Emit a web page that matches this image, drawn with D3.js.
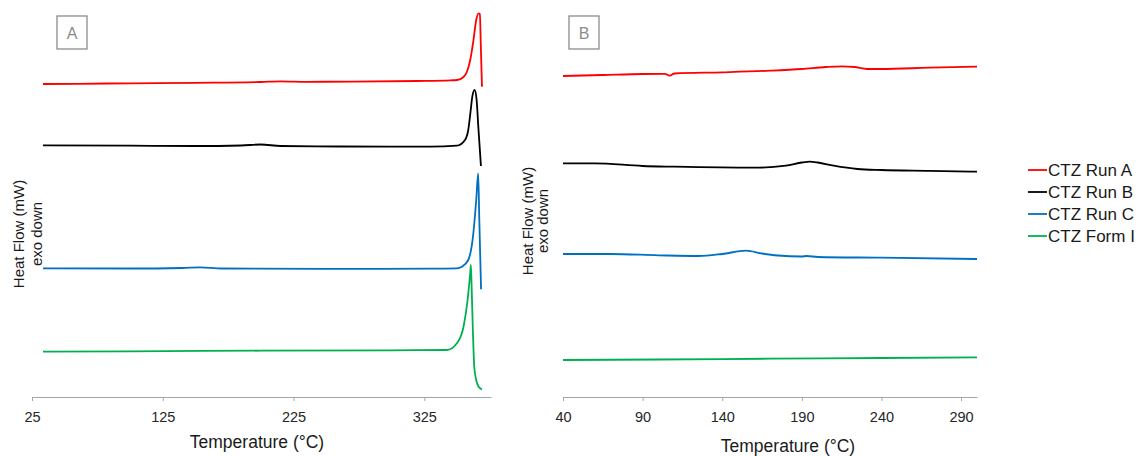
<!DOCTYPE html>
<html>
<head>
<meta charset="utf-8">
<script src="https://cdn.jsdelivr.net/npm/d3@7"></script>
<style>
  body { margin: 0; background: #fff; }
  svg { font-family: "Liberation Sans", Arial, sans-serif; }
</style>
</head>
<body>
<div id="chart-area"></div>
<script>

// series names + colours (legend order)
var seriesNames = ["CTZ Run A", "CTZ Run B", "CTZ Run C", "CTZ Form I"];
var seriesColors = ["#ff0000", "#000000", "#0070c0", "#00b050"];

// x tick labels
var ticksA = [25, 125, 225, 325];
var ticksB = [40, 90, 140, 190, 240, 290];

// Panel A: [temperature °C, heat flow (offset, arb.)]
var runA_A = [[33.4,31.3],[60,31.32],[100,31.37],[150,31.42],[200,31.5],[215,31.57],[235,31.52],[270,31.54],[320,31.6],[345,31.67],[350,31.7],[355,32.0],[357.6,32.53],[360.1,33.7],[362.6,35.7],[364.7,37.7],[366.5,38.37],[367.5,38.3],[368.2,35.2],[369.1,31.03]];
var runB_A = [[33.4,25.17],[100,25.13],[150,25.1],[185,25.15],[200,25.25],[215,25.1],[260,25.05],[330,25.03],[349.9,25.13],[356.1,25.7],[358.6,26.7],[360.5,28.7],[361.7,30.03],[363.5,30.7],[365.0,29.7],[366.3,27.03],[368.3,23.1]];
var runC_A = [[33.4,12.87],[100,12.85],[140,12.9],[153.5,12.97],[170,12.85],[250,12.82],[330,12.83],[349.9,12.87],[353.7,13.03],[358.6,13.7],[362.5,16.37],[364.7,19.7],[366.2,22.37],[367.0,18.03],[367.7,14.4],[368.4,10.77]];
var formI_A = [[33.4,4.53],[100,4.57],[200,4.63],[300,4.67],[342.3,4.7],[349.9,5.37],[355.0,7.03],[358.1,9.7],[360.1,12.4],[360.6,13.2],[361.1,11.4],[362.2,6.4],[363.2,3.03],[364.7,1.7],[366.5,1.03],[369.1,0.77]];

// Panel B
var runA_B = [[40,32.1],[65,32.2],[90,32.3],[104,32.32],[107,32.13],[110,32.35],[140,32.47],[170,32.63],[190,32.8],[205,33.0],[215,33.07],[223,33.0],[231,32.8],[240,32.8],[270,32.93],[300,33.03]];
var runB_B = [[40,23.37],[60,23.37],[90,23.1],[110,23.03],[160,22.93],[180,23.13],[190,23.45],[195,23.53],[200,23.45],[210,23.13],[225,22.8],[240,22.7],[270,22.62],[300,22.53]];
var runC_B = [[40,14.3],[70,14.3],[100,14.17],[125,14.1],[140,14.3],[155,14.63],[165,14.35],[175,14.15],[190,14.05],[193,14.1],[200,14.0],[240,13.93],[300,13.8]];
var formI_B = [[40,3.7],[100,3.75],[170,3.83],[240,3.9],[300,3.97]];

var W = 1138, H = 456;
var axisY = 397;

var svg = d3.select("#chart-area").append("svg")
	.attr("width", W)
	.attr("height", H);

var y = d3.scaleLinear()
	.domain([0, 39])
	.range([axisY, 7]);

function drawPanel(p) {
	var x = d3.scaleLinear()
		.domain(p.domain)
		.range(p.range);

	var g = svg.append("g");

	var xAxis = d3.axisBottom(x)
		.tickValues(p.ticks)
		.tickSizeInner(4)
		.tickSizeOuter(0)
		.tickPadding(10.5);

	var ax = g.append("g")
		.attr("transform", "translate(0," + axisY + ")")
		.call(xAxis);
	ax.select(".domain").attr("stroke", "#a6a6a6");
	ax.selectAll(".tick line").attr("stroke", "#a6a6a6");
	ax.selectAll(".tick text")
		.attr("fill", "#262626")
		.style("font-size", "14.5px")
		.style("font-family", "'Liberation Sans', Arial, sans-serif");

	var line = d3.line()
		.x(function(d) { return x(d[0]); })
		.y(function(d) { return y(d[1]); })
		.curve(d3.curveMonotoneX);

	p.series.forEach(function(s, i) {
		g.append("path")
			.datum(s)
			.attr("fill", "none")
			.attr("stroke", seriesColors[i])
			.attr("stroke-width", 1.8)
			.attr("d", line);
	});

	// axis titles
	g.append("text")
		.attr("x", p.titleX)
		.attr("y", p.titleY)
		.attr("text-anchor", "middle")
		.attr("fill", "#1a1a1a")
		.style("font-size", "17.5px")
		.text("Temperature (°C)");

	g.append("text")
		.attr("transform", "translate(" + p.yl1 + "," + p.ylc + ") rotate(-90)")
		.attr("text-anchor", "middle")
		.attr("fill", "#1a1a1a")
		.style("font-size", "15px")
		.text("Heat Flow (mW)");
	g.append("text")
		.attr("transform", "translate(" + p.yl2 + "," + p.ylc + ") rotate(-90)")
		.attr("text-anchor", "middle")
		.attr("fill", "#1a1a1a")
		.style("font-size", "15px")
		.text("exo down");

	// panel letter box
	g.append("rect")
		.attr("x", p.boxX)
		.attr("y", 16)
		.attr("width", 30)
		.attr("height", 33)
		.attr("fill", "none")
		.attr("stroke", "#8c8c8c")
		.attr("stroke-width", 1.3);
	g.append("text")
		.attr("x", p.boxX + 15)
		.attr("y", 38.5)
		.attr("text-anchor", "middle")
		.attr("fill", "#8c8c8c")
		.style("font-size", "16px")
		.text(p.letter);
}

drawPanel({
	domain: [25, 376], range: [32, 491], ticks: ticksA,
	series: [runA_A, runB_A, runC_A, formI_A],
	titleX: 257, titleY: 447.5,
	yl1: 24, yl2: 41.5, ylc: 234,
	boxX: 57, letter: "A"
});

drawPanel({
	domain: [40, 300], range: [563, 977], ticks: ticksB,
	series: [runA_B, runB_B, runC_B, formI_B],
	titleX: 788, titleY: 451.5,
	yl1: 533, yl2: 548, ylc: 221,
	boxX: 569, letter: "B"
});

// legend
var legend = svg.append("g")
	.attr("transform", "translate(1028,170)");

var item = legend.selectAll(".item")
	.data(seriesNames)
	.enter().append("g")
	.attr("class", "item")
	.attr("transform", function(d, i) { return "translate(0," + (i * 22) + ")"; });

item.append("line")
	.attr("x1", 0).attr("x2", 19)
	.attr("y1", 0).attr("y2", 0)
	.attr("stroke", function(d, i) { return seriesColors[i]; })
	.attr("stroke-width", 1.8);

item.append("text")
	.attr("x", 20)
	.attr("y", 6)
	.attr("fill", "#1a1a1a")
	.style("font-size", "17px")
	.text(function(d) { return d; });

</script>
</body>
</html>
